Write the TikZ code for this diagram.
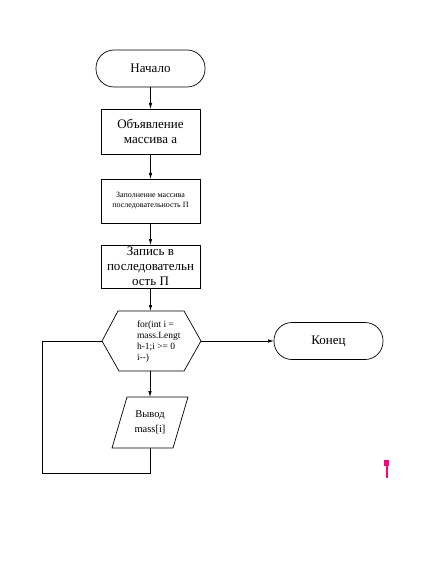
\documentclass[tikz,border=0pt]{standalone}
\usepackage{fontspec}
\setmainfont{Liberation Serif}
\usetikzlibrary{arrows.meta,calc}
\definecolor{marker}{RGB}{255,0,128}
\tikzset{
  every node/.style={inner sep=0pt, outer sep=0pt},
  terminal/.style={draw, line width=0.7pt, rounded corners=18pt, minimum width=109pt, minimum height=37pt, font=\fontsize{13}{15}\selectfont},
  procbox/.style={draw, line width=0.7pt, minimum width=99pt, align=center},
  flow/.style={line width=0.7pt, -{Latex[length=6pt,width=3.5pt]}},
  edge/.style={line width=0.7pt}
}
\begin{document}
\begin{tikzpicture}[x=1pt,y=-1pt]
\useasboundingbox (0,0) rectangle (422,561);

% terminators and process boxes
\node[terminal] (start) at (150.5,68.5) {Начало};
\node[procbox, minimum height=45pt, font=\fontsize{13}{15}\selectfont] (decl) at (150.5,131.5) {Объявление\\массива а};
\node[procbox, minimum height=44pt, font=\fontsize{8}{10}\selectfont] (fill) at (150.5,201) {Заполнение массива\\последовательность П};
\node[procbox, minimum height=43pt, font=\fontsize{13}{15}\selectfont] (write) at (150.5,266.5) {Запись в\\последовательн\\ость П};

% loop header (hexagon)
\node[minimum width=99pt, minimum height=60pt] (hex) at (151.5,341) {};
\draw[edge] (hex.west) -- ($(hex.north west)+(16,0)$) -- ($(hex.north east)+(-17,0)$)
  -- (hex.east) -- ($(hex.south east)+(-17,0)$) -- ($(hex.south west)+(17,0)$) -- cycle;
\node[anchor=west, align=left, font=\fontsize{9.5}{11}\selectfont] (hextext) at (137,342)
  {for(int i =\\mass.Lengt\\h-1;i >= 0\\i-{}-)};

\node[terminal] (end) at (328.5,341) {Конец};

% output (parallelogram)
\node[minimum width=76pt, minimum height=51pt, align=center, font=\fontsize{10.5}{15}\selectfont] (out) at (150,422.5) {Вывод\\mass[i]};
\draw[edge] (out.south west) -- ($(out.north west)+(15,0)$) -- (out.north east)
  -- ($(out.south east)+(-15,0)$) -- cycle;

% connectors
\draw[flow] (start) -- (decl);
\draw[flow] (decl) -- (fill);
\draw[flow] (fill) -- (write);
\draw[flow] (write.south) -- (hex.north -| write.south);
\draw[flow] (hex.east) -- (end.west);
\draw[flow] (hex.south -| out.north) -- (out.north);

\coordinate (lb) at (42,473);
\coordinate (lt) at (42,341);
\draw[edge] (out.south) |- (lb) -- (lt) -- (hex.west);

% marker
\fill[marker] (384,460) rectangle (389,466);
\fill[marker] (386,466) rectangle (388,478);
\end{tikzpicture}
\end{document}
